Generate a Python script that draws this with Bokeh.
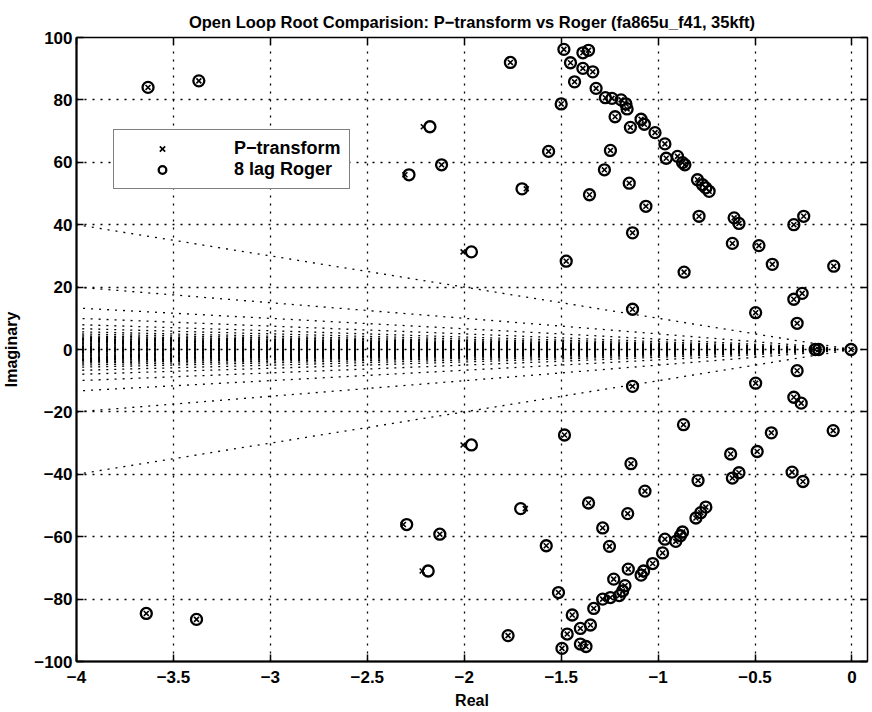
from bokeh.plotting import figure
from bokeh.models import (Range1d, FixedTicker, LinearAxis, Legend, LegendItem,
                          CustomJSTickFormatter, ColumnDataSource)
from bokeh.embed import file_html
from bokeh.resources import INLINE

# ---------------- data ----------------
title_text = "Open Loop Root Comparision: P\u2212transform vs Roger (fa865u_f41, 35kft)"

x_ticks = [-4, -3.5, -3, -2.5, -2, -1.5, -1, -0.5, 0]
x_tick_labels = ["\u22124", "\u22123.5", "\u22123", "\u22122.5", "\u22122",
                 "\u22121.5", "\u22121", "\u22120.5", "0"]
y_ticks = [-100, -80, -60, -40, -20, 0, 20, 40, 60, 80, 100]
y_tick_labels = ["\u2212100", "\u221280", "\u221260", "\u221240", "\u221220",
                 "0", "20", "40", "60", "80", "100"]

# roots common to both models (real, imaginary)
common_re = [
    -3.631, -3.369, -2.117, -1.762, -1.565, -1.474, -1.500, -1.486, -1.452, -1.431,
    -1.388, -1.359, -1.388, -1.337, -1.320, -1.272, -1.238, -1.191, -1.166, -1.160,
    -1.222, -1.088, -1.071, -1.143, -1.016, -0.965, -1.246, -0.958, -0.900, -0.874,
    -0.862, -1.277, -1.149, -1.354, -0.797, -0.771, -0.754, -0.737, -1.063, -0.789,
    -0.608, -0.583, -1.132, -0.617, -0.480, -0.411, -0.300, -0.249, -0.094, -0.866,
    -0.300, -0.257, -1.132, -0.497, -0.283,
    -0.190, -0.172, -0.005,
    -3.640, -3.381, -2.126, -1.774, -1.577, -1.483, -1.514, -1.496, -1.469, -1.443,
    -1.401, -1.372, -1.401, -1.349, -1.332, -1.286, -1.246, -1.200, -1.183, -1.171,
    -1.229, -1.088, -1.075, -1.154, -1.028, -0.977, -1.251, -0.965, -0.909, -0.885,
    -0.874, -1.286, -1.157, -1.359, -0.805, -0.780, -0.754, -1.068, -0.794,
    -0.617, -0.583, -1.140, -0.626, -0.489, -0.416, -0.309, -0.253, -0.097, -0.869,
    -0.300, -0.262, -1.132, -0.497, -0.283,
]
common_im = [
    84.0, 86.1, 59.2, 92.0, 63.5, 28.3, 78.7, 96.2, 91.9, 85.8,
    95.1, 95.9, 90.1, 89.0, 83.7, 80.7, 80.5, 80.0, 78.7, 77.1,
    74.6, 73.8, 72.2, 71.2, 69.5, 65.9, 63.8, 61.3, 61.9, 59.9,
    59.2, 57.6, 53.3, 49.6, 54.4, 52.8, 51.8, 50.7, 45.9, 42.7,
    42.2, 40.4, 37.4, 34.0, 33.3, 27.3, 40.0, 42.7, 26.7, 24.8,
    16.1, 18.0, 12.9, 11.8, 8.4,
    0.0, 0.0, 0.0,
    -84.6, -86.5, -59.2, -91.7, -62.9, -27.4, -77.9, -95.8, -91.2, -85.1,
    -94.4, -95.2, -89.4, -88.3, -83.0, -80.0, -79.5, -78.9, -77.4, -75.7,
    -73.6, -72.3, -71.0, -70.4, -68.6, -65.2, -63.1, -60.8, -61.5, -59.7,
    -58.5, -57.2, -52.6, -49.2, -54.0, -52.3, -50.5, -45.4, -42.0,
    -41.2, -39.5, -36.6, -33.5, -32.7, -26.7, -39.3, -42.3, -26.0, -24.1,
    -15.3, -17.2, -11.8, -10.8, -6.8,
]

# roots where the two models differ
ptrans_only_re = [-2.211, -2.306, -2.006, -1.680, -2.217, -2.314, -2.006, -1.685]
ptrans_only_im = [71.4, 56.0, 31.3, 51.5, -71.0, -56.1, -30.6, -51.0]
roger_only_re = [-2.177, -2.285, -1.963, -1.702, -2.186, -2.297, -1.963, -1.709]
roger_only_im = [71.4, 56.0, 31.3, 51.5, -71.0, -56.1, -30.6, -51.0]

# damping-ratio fan: imaginary value of each ray at the left edge (Re = -4)
fan_edge_re = -4
fan_edge_im = [40, 20, 13.3, 10, 8, 6.7, 5.7, 5, 4.4, 4, 3.6, 3.3, 3, 2.7, 2.4,
               2.1, 1.8, 1.5, 1.2, 0.9, 0.6, 0.3, 0,
               -0.3, -0.6, -0.9, -1.2, -1.5, -1.8, -2.1, -2.4, -2.7, -3, -3.3,
               -3.6, -4, -4.4, -5, -5.7, -6.7, -8, -10, -13.3, -20, -40]

# ---------------- figure ----------------
FONT = "Liberation Sans"

p = figure(width=870, height=711,
           x_range=Range1d(-4, 0.08), y_range=Range1d(-100, 100),
           output_backend="svg", toolbar_location=None,
           title=title_text,
           min_border_left=75, min_border_right=3, min_border_top=37, min_border_bottom=48)
p.background_fill_color = "white"
p.border_fill_color = "white"
p.outline_line_color = "black"
p.outline_line_width = 1.5

p.title.text_font = FONT
p.title.text_font_size = "16.5px"
p.title.text_font_style = "bold"
p.title.text_color = "black"
p.title.align = "center"
p.title.standoff = 14
p.title.offset = 0

p.xaxis.ticker = FixedTicker(ticks=x_ticks)
p.yaxis.ticker = FixedTicker(ticks=y_ticks)
p.xaxis.major_label_overrides = dict(zip(x_ticks, x_tick_labels))
p.yaxis.major_label_overrides = dict(zip(y_ticks, y_tick_labels))
p.xaxis.axis_label = "Real"
p.yaxis.axis_label = "Imaginary"

for ax in (p.xaxis[0], p.yaxis[0]):
    ax.axis_line_width = 2
    ax.axis_line_color = "black"
    ax.major_tick_in = 7
    ax.major_tick_out = 0
    ax.major_tick_line_width = 1.5
    ax.major_tick_line_color = "black"
    ax.minor_tick_line_color = None
    ax.major_label_text_font = FONT
    ax.major_label_text_font_size = "17px"
    ax.major_label_text_font_style = "bold"
    ax.major_label_text_color = "black"
    ax.axis_label_text_font = FONT
    ax.axis_label_text_font_size = "16px"
    ax.axis_label_text_font_style = "bold"
    ax.axis_label_text_color = "black"
p.xaxis.major_label_standoff = 9
p.xaxis.axis_label_standoff = 6
p.yaxis.major_label_standoff = 4
p.yaxis.axis_label_standoff = 11

blank = CustomJSTickFormatter(code="return ''")
top_axis = LinearAxis(ticker=FixedTicker(ticks=x_ticks), formatter=blank)
right_axis = LinearAxis(ticker=FixedTicker(ticks=y_ticks), formatter=blank)
for ax in (top_axis, right_axis):
    ax.axis_line_color = None
    ax.major_tick_in = 7
    ax.major_tick_out = 0
    ax.major_tick_line_width = 1.5
    ax.major_tick_line_color = "black"
    ax.minor_tick_line_color = None
    ax.major_label_standoff = 0
    ax.major_label_text_font_size = "1px"
p.add_layout(top_axis, "above")
p.add_layout(right_axis, "right")

for g in (p.xgrid[0], p.ygrid[0]):
    g.grid_line_color = "black"
    g.grid_line_width = 1.3
    g.grid_line_dash = "2 6"

# fan of dotted rays from the origin
fan_xs = [[0, fan_edge_re] for _ in fan_edge_im]
fan_ys = [[0, v] for v in fan_edge_im]
p.multi_line(fan_xs, fan_ys, line_color="black", line_width=1.3, line_dash="2 6")

rog_src = ColumnDataSource(dict(re=common_re + roger_only_re, im=common_im + roger_only_im))
ptr_src = ColumnDataSource(dict(re=common_re + ptrans_only_re, im=common_im + ptrans_only_im))

r_o = p.scatter("re", "im", source=rog_src, marker="circle", size=11,
                fill_color=None, line_color="black", line_width=2.3)
r_x = p.scatter("re", "im", source=ptr_src, marker="x", size=7,
                line_color="black", line_width=1.6)

legend = Legend(items=[LegendItem(label="P\u2212transform", renderers=[r_x]),
                       LegendItem(label="8 lag Roger", renderers=[r_o])],
                location=(37, 472))
legend.padding = 8
legend.spacing = 0
legend.margin = 0
legend.glyph_width = 80
legend.glyph_height = 19
legend.label_height = 19
legend.label_standoff = 32
legend.label_text_font = FONT
legend.label_text_font_size = "18px"
legend.label_text_font_style = "bold"
legend.label_text_color = "black"
legend.border_line_color = "black"
legend.border_line_width = 1.5
legend.background_fill_color = "white"
legend.background_fill_alpha = 1
p.add_layout(legend, "center")

open("out.html", "w").write(file_html(p, INLINE))
